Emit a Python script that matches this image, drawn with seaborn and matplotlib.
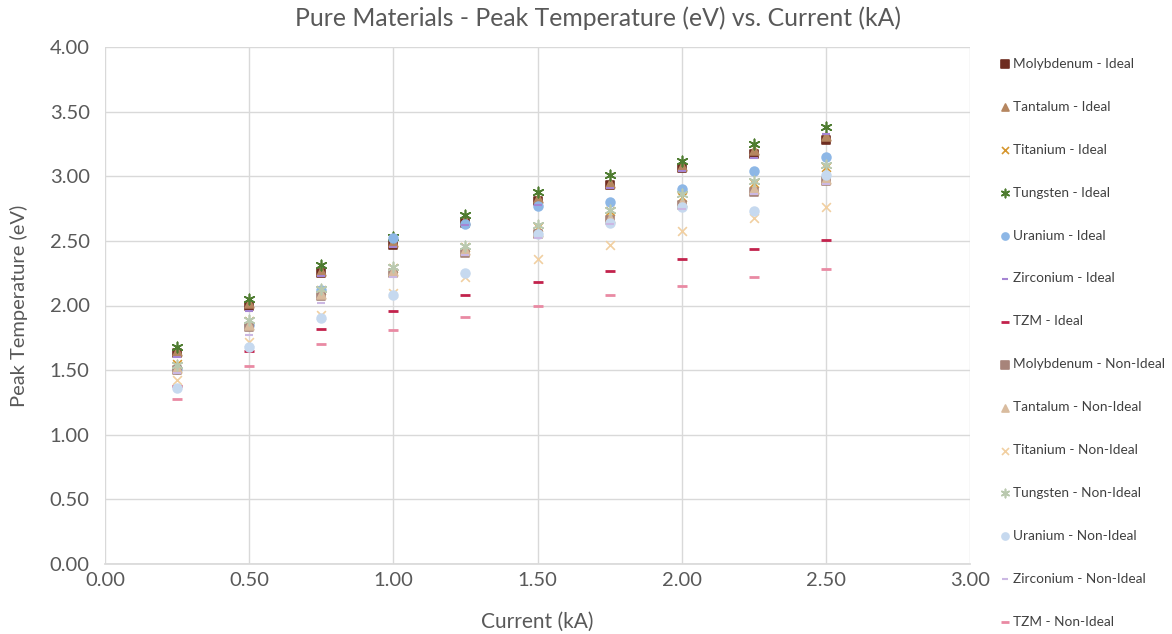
import matplotlib
matplotlib.use("Agg")
import matplotlib.pyplot as plt
import seaborn as sns
import pandas as pd

current = [0.25, 0.5, 0.75, 1.0, 1.25, 1.5, 1.75, 2.0, 2.25, 2.5]

mo_ideal = [1.63, 2.00, 2.25, 2.47, 2.64, 2.81, 2.93, 3.06, 3.17, 3.28]
ta_ideal = [1.65, 2.02, 2.27, 2.49, 2.66, 2.83, 2.95, 3.08, 3.20, 3.31]
ti_ideal = [1.55, 1.88, 2.12, 2.29, 2.45, 2.61, 2.73, 2.84, 2.95, 3.07]
w_ideal = [1.68, 2.05, 2.31, 2.53, 2.70, 2.88, 3.01, 3.12, 3.25, 3.38]
u_ideal = [1.51, 1.85, 2.12, 2.52, 2.63, 2.77, 2.80, 2.90, 3.04, 3.15]
zr_ideal = [1.60, 1.96, 2.23, 2.45, 2.62, 2.78, 2.91, 3.04, 3.14, 3.33]
tzm_ideal = [1.38, 1.65, 1.82, 1.96, 2.08, 2.18, 2.27, 2.36, 2.44, 2.51]
mo_non = [1.50, 1.83, 2.07, 2.25, 2.41, 2.55, 2.66, 2.78, 2.88, 2.96]
ta_non = [1.52, 1.85, 2.09, 2.27, 2.43, 2.57, 2.68, 2.80, 2.90, 2.98]
ti_non = [1.42, 1.72, 1.93, 2.10, 2.22, 2.36, 2.47, 2.58, 2.68, 2.76]
w_non = [1.54, 1.89, 2.13, 2.30, 2.46, 2.62, 2.74, 2.86, 2.96, 3.09]
u_non = [1.36, 1.68, 1.90, 2.08, 2.25, 2.55, 2.64, 2.76, 2.73, 3.01]
zr_non = [1.48, 1.77, 2.02, 2.22, 2.39, 2.52, 2.63, 2.75, 2.86, 2.94]
tzm_non = [1.28, 1.53, 1.70, 1.81, 1.91, 2.00, 2.08, 2.15, 2.22, 2.28]

series_names = [
    "Molybdenum - Ideal", "Tantalum - Ideal", "Titanium - Ideal", "Tungsten - Ideal",
    "Uranium - Ideal", "Zirconium - Ideal", "TZM - Ideal",
    "Molybdenum - Non-Ideal", "Tantalum - Non-Ideal", "Titanium - Non-Ideal",
    "Tungsten - Non-Ideal", "Uranium - Non-Ideal", "Zirconium - Non-Ideal", "TZM - Non-Ideal",
]
series_values = [mo_ideal, ta_ideal, ti_ideal, w_ideal, u_ideal, zr_ideal, tzm_ideal,
                 mo_non, ta_non, ti_non, w_non, u_non, zr_non, tzm_non]

colors = ["#6e2c20", "#b58660", "#d6962e", "#4e7c30", "#8db7e6", "#a585d3", "#c2224c",
          "#a7847a", "#d9bc9f", "#f1cfa1", "#bac9af", "#c6d9ef", "#cbb8e3", "#e98aa3"]
markers = ["s", "^", "x", (6, 2, 0), "o", "_", "_",
           "s", "^", "x", (6, 2, 0), "o", "_", "_"]
sizes = [40, 40, 40, 55, 40, 30, 55, 40, 40, 40, 55, 40, 30, 55]

sns.set_theme(style="white")
plt.rcParams['font.family'] = ['Lato', 'DejaVu Sans']

fig = plt.figure(figsize=(11.72, 6.34), dpi=100)
ax = fig.add_axes([105 / 1172, 70 / 634, 865 / 1172, 517 / 634])

for name, vals, c, m, s in zip(series_names, series_values, colors, markers, sizes):
    df = pd.DataFrame({"x": current, "y": vals})
    lw = 1.2
    if m == "_":
        lw = 1.5 if s < 40 else 2.0
    sns.scatterplot(data=df, x="x", y="y", ax=ax, color=c, marker=m, s=s,
                    linewidth=lw, edgecolor=c if m not in ("x", "_") and not isinstance(m, tuple) else None,
                    label=name, zorder=3)

ax.set_xlim(0, 3.0)
ax.set_ylim(0, 4.0)
ax.set_xticks([i * 0.5 for i in range(7)])
ax.set_yticks([i * 0.5 for i in range(9)])
ax.set_xticklabels([f"{i * 0.5:.2f}" for i in range(7)])
ax.set_yticklabels([f"{i * 0.5:.2f}" for i in range(9)])
ax.grid(True, color="#d9d9d9", linewidth=1)
ax.set_axisbelow(True)
for sp in ["top", "right", "left"]:
    ax.spines[sp].set_visible(False)
ax.spines["bottom"].set_color("#d9d9d9")
ax.tick_params(axis="both", length=0, labelsize=14.5, colors="#595959")
ax.tick_params(axis="y", pad=11)
ax.tick_params(axis="x", pad=6)

ax.set_xlabel("Current (kA)", fontsize=15, color="#595959", labelpad=16)
ax.set_ylabel("Peak Temperature (eV)", fontsize=14.5, color="#595959", labelpad=16)
fig.text(598 / 1172, 1 - 18 / 634, "Pure Materials - Peak Temperature (eV) vs. Current (kA)",
         fontsize=17.8, color="#595959", ha="center", va="center")

handles, labels = ax.get_legend_handles_labels()
ax.legend(handles, labels, loc="upper left", bbox_to_anchor=(1001 / 1172, 1 - 58 / 634),
          bbox_transform=fig.transFigure, frameon=False, fontsize=9.8,
          labelcolor="#404040", labelspacing=2.27, handlelength=0.6,
          handletextpad=0.3, borderpad=0, borderaxespad=0, markerscale=0.8)

fig.savefig("out.png", dpi=100)
